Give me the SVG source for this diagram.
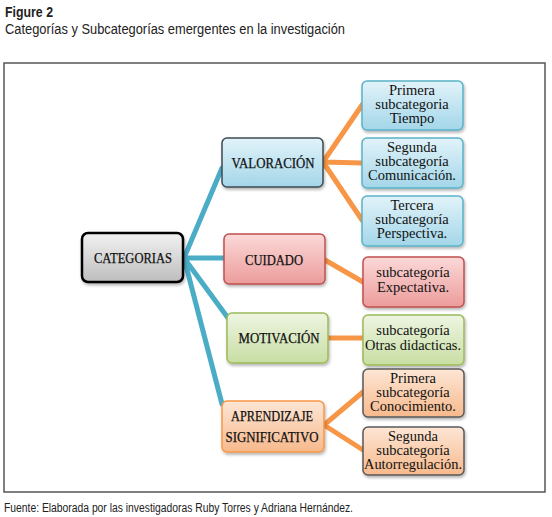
<svg xmlns="http://www.w3.org/2000/svg" width="552" height="517" viewBox="0 0 552 517">
<defs>
<linearGradient id="gBlue" x1="0" y1="0" x2="0" y2="1"><stop offset="0" stop-color="#e2f3f9"/><stop offset="1" stop-color="#a3d6e9"/></linearGradient>
<linearGradient id="gGray" x1="0" y1="0" x2="0" y2="1"><stop offset="0" stop-color="#f2f2f2"/><stop offset="1" stop-color="#bdbdbd"/></linearGradient>
<linearGradient id="gPink" x1="0" y1="0" x2="0" y2="1"><stop offset="0" stop-color="#fbd9d8"/><stop offset="1" stop-color="#eb9c9b"/></linearGradient>
<linearGradient id="gGreen" x1="0" y1="0" x2="0" y2="1"><stop offset="0" stop-color="#eef5e2"/><stop offset="1" stop-color="#c8dea3"/></linearGradient>
<linearGradient id="gOrange" x1="0" y1="0" x2="0" y2="1"><stop offset="0" stop-color="#fde6d5"/><stop offset="1" stop-color="#f7b98c"/></linearGradient>
<filter id="sh" x="-10%" y="-10%" width="125%" height="130%"><feDropShadow dx="1" dy="2" stdDeviation="1.5" flood-color="#000" flood-opacity="0.3"/></filter>
</defs>
<style>
.cap{font-family:"Liberation Sans Narrow","Liberation Sans",Arial,sans-serif;fill:#222}
.bx{filter:url(#sh)}
.t{font-family:"Liberation Serif","DejaVu Serif",serif;font-size:14px;fill:#111;text-anchor:middle;stroke:#111;stroke-width:0.25}
.s{font-family:"Liberation Serif","DejaVu Serif",serif;font-size:14.5px;fill:#111;text-anchor:middle}
.teal{stroke:#4bacc6;stroke-width:5;fill:none;stroke-linecap:round}
.org{stroke:#f79646;stroke-width:5;fill:none;stroke-linecap:round}
</style>
<text class="cap" x="5" y="17" font-size="14" font-weight="bold" textLength="48" lengthAdjust="spacingAndGlyphs">Figure 2</text>
<text class="cap" x="5" y="34" font-size="14" textLength="340" lengthAdjust="spacingAndGlyphs">Categorías y Subcategorías emergentes en la investigación</text>
<rect x="4" y="63" width="541" height="429" fill="none" stroke="#555" stroke-width="1.5"/>
<g id="connectors">
<path class="teal" d="M184 258 L222 168 M184 258 L224 258 M184 258 L228 318 M184 258 L222 404"/>
<path class="org" d="M323 162 L362 105 M323 162 L362 163 M323 162 L362 220 M325 260 L363 282 M328 338 L363 338 M324 425 L363 392 M324 425 L363 450"/>
</g>
<g id="categorias"><rect class="bx" x="82" y="233" width="101" height="49" rx="6" fill="url(#gGray)" stroke="#000" stroke-width="2.5"/><text class="t" x="133" y="263" textLength="78" lengthAdjust="spacingAndGlyphs">CATEGORIAS</text></g>
<g id="valoracion"><rect class="bx" x="222" y="138" width="101" height="49" rx="5" fill="url(#gBlue)" stroke="#3f4a52" stroke-width="1.5"/><text class="t" x="273" y="168" textLength="83" lengthAdjust="spacingAndGlyphs">VALORACIÓN</text></g>
<g id="cuidado"><rect class="bx" x="224" y="234" width="101" height="50" rx="5" fill="url(#gPink)" stroke="#c0504d" stroke-width="1.5"/><text class="t" x="274" y="265" textLength="58" lengthAdjust="spacingAndGlyphs">CUIDADO</text></g>
<g id="motivacion"><rect class="bx" x="227" y="313" width="101" height="50" rx="5" fill="url(#gGreen)" stroke="#9bbb59" stroke-width="1.5"/><text class="t" x="279" y="343" textLength="81" lengthAdjust="spacingAndGlyphs">MOTIVACIÓN</text></g>
<g id="aprendizaje"><rect class="bx" x="222" y="401" width="102" height="51" rx="5" fill="url(#gOrange)" stroke="#f79646" stroke-width="1.5"/><text class="t" x="272" y="421" textLength="82" lengthAdjust="spacingAndGlyphs">APRENDIZAJE</text><text class="t" x="272" y="442" textLength="93" lengthAdjust="spacingAndGlyphs">SIGNIFICATIVO</text></g>
<g id="sub-tiempo"><rect class="bx" x="362" y="81" width="101" height="49" rx="5" fill="url(#gBlue)" stroke="#5ab2c9" stroke-width="1.5"/><text class="s" x="412" y="95">Primera</text><text class="s" x="412" y="109">subcategoria</text><text class="s" x="412" y="123">Tiempo</text></g>
<g id="sub-comunicacion"><rect class="bx" x="362" y="138" width="101" height="50" rx="5" fill="url(#gBlue)" stroke="#5ab2c9" stroke-width="1.5"/><text class="s" x="412" y="152">Segunda</text><text class="s" x="412" y="166">subcategoría</text><text class="s" x="412" y="180" textLength="88" lengthAdjust="spacingAndGlyphs">Comunicación.</text></g>
<g id="sub-perspectiva"><rect class="bx" x="362" y="196" width="101" height="50" rx="5" fill="url(#gBlue)" stroke="#5ab2c9" stroke-width="1.5"/><text class="s" x="412" y="210">Tercera</text><text class="s" x="412" y="224">subcategoría</text><text class="s" x="412" y="238">Perspectiva.</text></g>
<g id="sub-expectativa"><rect class="bx" x="363" y="257" width="101" height="50" rx="5" fill="url(#gPink)" stroke="#c0504d" stroke-width="1.5"/><text class="s" x="413" y="277">subcategoría</text><text class="s" x="413" y="292">Expectativa.</text></g>
<g id="sub-otras"><rect class="bx" x="363" y="315" width="101" height="50" rx="5" fill="url(#gGreen)" stroke="#9bbb59" stroke-width="1.5"/><text class="s" x="413" y="335">subcategoría</text><text class="s" x="413" y="350" textLength="96" lengthAdjust="spacingAndGlyphs">Otras didacticas.</text></g>
<g id="sub-conocimiento"><rect class="bx" x="363" y="369" width="101" height="48" rx="5" fill="url(#gOrange)" stroke="#595959" stroke-width="1.5"/><text class="s" x="413" y="383">Primera</text><text class="s" x="413" y="397">subcategoría</text><text class="s" x="413" y="411">Conocimiento.</text></g>
<g id="sub-autorregulacion"><rect class="bx" x="363" y="427" width="101" height="48" rx="5" fill="url(#gOrange)" stroke="#595959" stroke-width="1.5"/><text class="s" x="413" y="441">Segunda</text><text class="s" x="413" y="455">subcategoría</text><text class="s" x="413" y="469" textLength="98" lengthAdjust="spacingAndGlyphs">Autorregulación.</text></g>
<text class="cap" x="4" y="512" font-size="12" textLength="349" lengthAdjust="spacingAndGlyphs">Fuente: Elaborada por las investigadoras Ruby Torres y Adriana Hernández.</text>
</svg>
